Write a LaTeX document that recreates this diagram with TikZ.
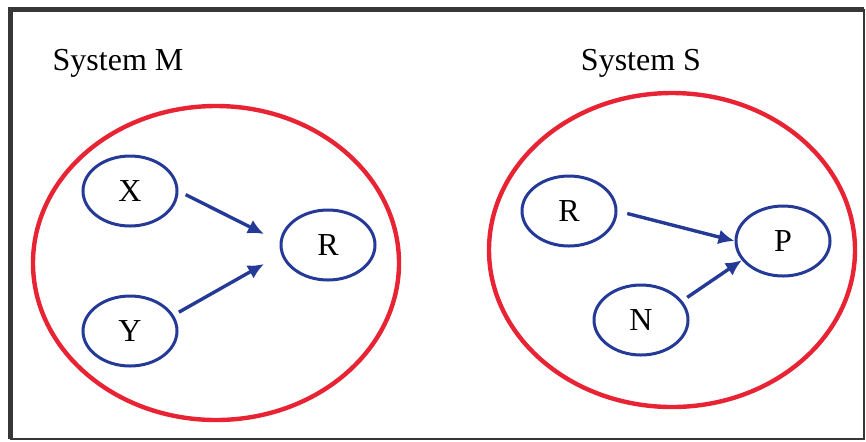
\documentclass[tikz,border=0pt]{standalone}
\usepackage{fontspec}
\setmainfont{Liberation Serif}
\usetikzlibrary{shapes.geometric,arrows.meta}
\definecolor{sysred}{RGB}{232,36,52}
\definecolor{varblue}{RGB}{36,58,150}
\definecolor{framegray}{RGB}{55,55,55}

\begin{document}
\begin{tikzpicture}[x=0.5pt,y=-0.5pt]
\tikzstyle{sys}=[ellipse,draw=sysred,line width=2.2pt,minimum width=183pt,minimum height=157pt]
\tikzstyle{var}=[ellipse,draw=varblue,line width=1.5pt,minimum width=47pt,minimum height=35pt,font=\fontsize{16}{19}\selectfont]
\tikzstyle{link}=[draw=varblue,line width=1.7pt,-{Latex[length=8pt,width=7.5pt]}]
\tikzstyle{title}=[font=\fontsize{16}{19}\selectfont]
\useasboundingbox (0,0) rectangle (866,441);
% frame
\draw[framegray,line width=2.5pt] (10,439) -- (10,9) -- (864,9);
\draw[framegray,line width=1pt] (864,9) -- (864,439) -- (10,439);
% system M
\node [title] (labM) at (118,63) {System M};
\node [sys] (sysM) at (216,263) {};
\node [var] (X) at (130,191) {X};
\node [var] (Y) at (130,331) {Y};
\node [var] (RM) at (328,245) {R};
\coordinate (inX) at (264,234);
\coordinate (inY) at (264,264);
\draw [link,shorten <=4pt] (X.east) -- (inX);
\draw [link,shorten <=3pt] (Y.20) -- (inY);
% system S
\node [title] (labS) at (641,63) {System S};
\node [sys] (sysS) at (672,250) {};
\node [var] (RS) at (569,211) {R};
\node [var] (P) at (783,241) {P};
\node [var] (N) at (641,320) {N};
\draw [link,shorten <=5pt] (RS.east) -- (P.west);
\draw [link,shorten <=3pt] (N.25) -- (P.205);
\end{tikzpicture}
\end{document}
